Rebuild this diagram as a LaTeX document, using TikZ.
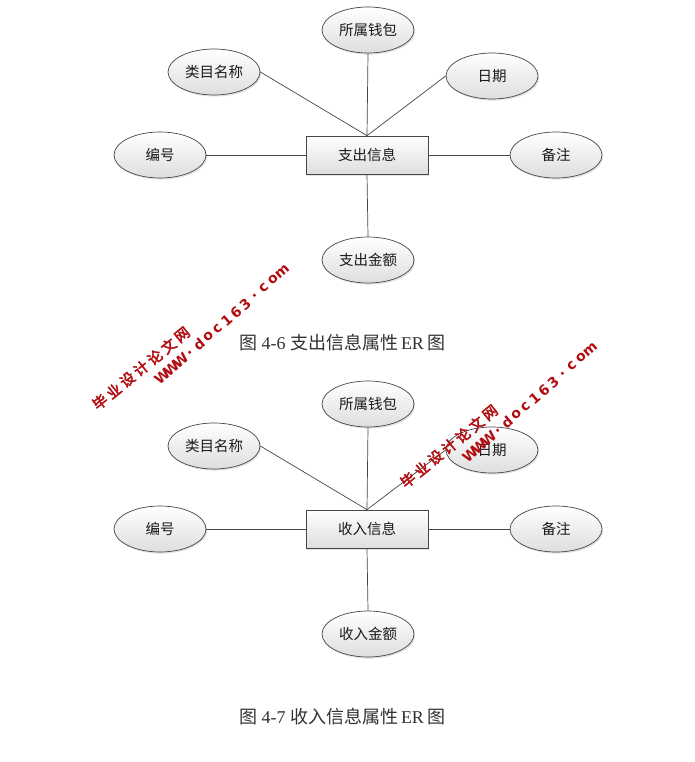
\documentclass[tikz,border=0pt]{standalone}
\usepackage{fontspec}
\setmainfont{Liberation Serif}
\newfontfamily\cjk{Noto Sans CJK SC}
\newfontfamily\wmcjk[FakeBold=3]{Noto Sans CJK SC}
\newfontfamily\wmlat{DejaVu Sans}
\usetikzlibrary{shapes.geometric,shadows}
\definecolor{linegray}{RGB}{70,70,70}
\definecolor{fillgray}{RGB}{222,222,222}
\definecolor{textgray}{RGB}{25,25,25}
\definecolor{capgray}{RGB}{50,50,50}
\definecolor{wmred}{RGB}{178,14,18}
\tikzset{
  boxfill/.style={draw=linegray, line width=0.7pt, top color=white, bottom color=fillgray,
    drop shadow={opacity=0.22, shadow xshift=1.2pt, shadow yshift=-1.6pt},
    inner sep=0pt, text=textgray, font=\cjk\fontsize{14.5}{16}\selectfont},
  attr/.style={boxfill, ellipse, minimum width=92pt, minimum height=46pt},
  entity/.style={boxfill, rectangle, minimum width=122pt, minimum height=38pt},
  conn/.style={draw=linegray, line width=0.7pt},
  caption/.style={text=capgray, font=\fontsize{18}{20}\selectfont, inner sep=0pt},
  wmzh/.style={text=wmred, font=\wmcjk\fontsize{14.5}{14.5}\selectfont, inner sep=0pt, rotate=39},
  wmen/.style={text=wmred, font=\wmlat\bfseries\fontsize{14}{14}\selectfont, inner sep=0pt, rotate=41}
}
\begin{document}
\begin{tikzpicture}[x=1pt,y=-1pt]
\useasboundingbox[fill=white] (0,0) rectangle (695,762);

% ---------- figure 4-6 ----------
\node[entity] (r1) at (367,155) {支出信息};
\node[attr] (a1) at (368,30) {所属钱包};
\node[attr] (b1) at (214,72) {类目名称};
\node[attr] (c1) at (492,76) {日期};
\node[attr] (d1) at (160,155) {编号};
\node[attr] (e1) at (556,155) {备注};
\node[attr] (f1) at (368,260) {支出金额};
\draw[conn] (a1.south) -- (r1.north);
\draw[conn] (b1.east) -- (r1.north);
\draw[conn] (c1.west) -- (r1.north);
\draw[conn] (d1.east) -- (r1.west);
\draw[conn] (r1.east) -- (e1.west);
\draw[conn] (r1.south) -- (f1.north);
\node[caption] (cap1) at (342,343) {{\cjk 图} 4-6 {\cjk 支出信息属性}\,ER\,{\cjk 图}};

% ---------- figure 4-7 ----------
\node[entity] (r2) at (367,529) {收入信息};
\node[attr] (a2) at (368,404) {所属钱包};
\node[attr] (b2) at (214,446) {类目名称};
\node[attr] (c2) at (492,450) {日期};
\node[attr] (d2) at (160,529) {编号};
\node[attr] (e2) at (556,529) {备注};
\node[attr] (f2) at (368,634) {收入金额};
\draw[conn] (a2.south) -- (r2.north);
\draw[conn] (b2.east) -- (r2.north);
\draw[conn] (c2.west) -- (r2.north);
\draw[conn] (d2.east) -- (r2.west);
\draw[conn] (r2.east) -- (e2.west);
\draw[conn] (r2.south) -- (f2.north);
\node[caption] (cap2) at (342,717) {{\cjk 图} 4-7 {\cjk 收入信息属性}\,ER\,{\cjk 图}};

% ---------- watermarks ----------
\foreach \ox/\oy/\k in {0/0/1, 308/78/2}{
  \foreach \ch [count=\i from 0] in {毕,业,设,计,论,文,网}
    \node[wmzh] (wz\k-\i) at ({100+\ox+\i*13.7},{402+\oy-\i*11.2}) {\ch};
  \foreach \ch [count=\i from 0] in {W,W,W,.,d,o,c,1,6,3,.,c,o,m}
    \node[wmen] (we\k-\i) at ({162+\ox+\i*9.25},{377+\oy-\i*8.1}) {\ch};
}
\end{tikzpicture}
\end{document}
